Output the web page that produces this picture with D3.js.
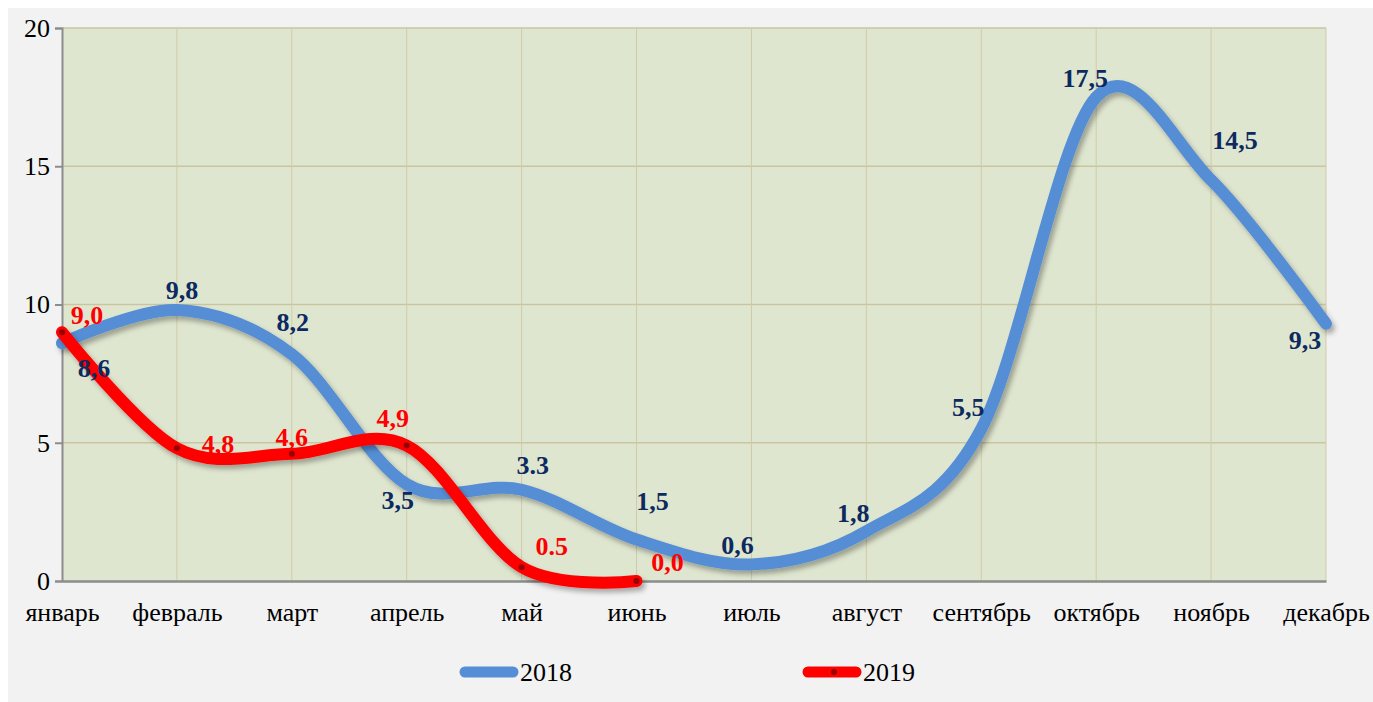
<!DOCTYPE html>
<html>
<head>
<meta charset="utf-8">
<script src="https://cdn.jsdelivr.net/npm/d3@7"></script>
<style>
  body { margin: 0; background: #ffffff; }
  svg { display: block; }
  svg text { font-family: "Liberation Serif", "Times New Roman", serif; }
</style>
</head>
<body>
<div id="chart"></div>
<script>
// data
var months = ["январь","февраль","март","апрель","май","июнь","июль","август","сентябрь","октябрь","ноябрь","декабрь"]
var values2018 = [8.6, 9.8, 8.2, 3.5, 3.3, 1.5, 0.6, 1.8, 5.5, 17.5, 14.5, 9.3]
var labels2018 = ["8,6","9,8","8,2","3,5","3.3","1,5","0,6","1,8","5,5","17,5","14,5","9,3"]
var values2019 = [9.0, 4.8, 4.6, 4.9, 0.5, 0.0]
var labels2019 = ["9,0","4,8","4,6","4,9","0.5","0,0"]
var yTicks = [0, 5, 10, 15, 20]
var seriesNames = ["2018", "2019"]

// label placement (dx, dy from point, baseline)
var off2018 = [[32,34],[5,-11],[1,-23],[-9,25],[11,-16],[16,-30],[-14,-10],[-13,-9],[-13,-13],[-11,-10],[24,-31],[-21,25]]
var off2019 = [[25,-8],[41,5],[0,-8],[-14,-19],[30,-12],[31,-10]]

var W = 1373, H = 702
var margin = {left: 62, right: 47, top: 28, bottom: 121}

var svg = d3.select("#chart").append("svg")
    .attr("width", W)
    .attr("height", H)

var defs = svg.append("defs")
var f = defs.append("filter").attr("id","shadow")
    .attr("x","-10%").attr("y","-10%").attr("width","120%").attr("height","130%")
f.append("feDropShadow")
    .attr("dx", 3).attr("dy", 4)
    .attr("stdDeviation", 2.5)
    .attr("flood-color", "#000")
    .attr("flood-opacity", 0.3)

svg.append("rect")
    .attr("x", 8).attr("y", 8)
    .attr("width", W - 8).attr("height", H - 8)
    .attr("fill", "#f2f2f2")

var x = d3.scalePoint().domain(months).range([margin.left, W - margin.right])
var y = d3.scaleLinear().domain([0, 20]).range([H - margin.bottom, margin.top])

svg.append("rect")
    .attr("x", margin.left).attr("y", margin.top)
    .attr("width", W - margin.right - margin.left)
    .attr("height", H - margin.bottom - margin.top)
    .attr("fill", "#dfe6cf")

// gridlines
svg.append("g").selectAll("line.h")
    .data(yTicks.filter(d => d > 0))
    .enter().append("line")
    .attr("x1", margin.left).attr("x2", W - margin.right)
    .attr("y1", d => y(d)).attr("y2", d => y(d))
    .attr("stroke", "#c9c5a0").attr("stroke-width", 1.5)

svg.append("g").selectAll("line.v")
    .data(months.slice(1))
    .enter().append("line")
    .attr("x1", d => x(d)).attr("x2", d => x(d))
    .attr("y1", margin.top).attr("y2", H - margin.bottom)
    .attr("stroke", "#cfcbaa").attr("stroke-width", 1)

// axes
var yAxis = d3.axisLeft(y).tickValues(yTicks).tickSize(7).tickPadding(5)
var gy = svg.append("g").attr("transform", "translate(" + margin.left + ",0)").call(yAxis)
gy.attr("font-family", null)
gy.select(".domain").attr("stroke", "#8c8c8c").attr("stroke-width", 2)
gy.selectAll(".tick line").attr("stroke", "#8c8c8c").attr("stroke-width", 2)
gy.selectAll(".tick text")
    .style("font-size", "26px").attr("fill", "#000")

var xAxis = d3.axisBottom(x).tickSize(0).tickPadding(22)
var gx = svg.append("g").attr("transform", "translate(0," + (H - margin.bottom) + ")").call(xAxis)
gx.attr("font-family", null)
gx.select(".domain").attr("stroke", "#8c8c8c").attr("stroke-width", 2.5)
gx.selectAll(".tick text")
    .style("font-size", "26px").attr("fill", "#000")

// lines
var line = d3.line()
    .x((d, i) => x(months[i]))
    .y(d => y(d))
    .curve(d3.curveCardinal.tension(0))

svg.append("path")
    .datum(values2018)
    .attr("d", line)
    .attr("fill", "none")
    .attr("stroke", "#558ed5")
    .attr("stroke-width", 12)
    .attr("stroke-linecap", "round")
    .attr("filter", "url(#shadow)")

svg.append("path")
    .datum(values2019)
    .attr("d", line)
    .attr("fill", "none")
    .attr("stroke", "#ff0000")
    .attr("stroke-width", 12)
    .attr("stroke-linecap", "round")
    .attr("filter", "url(#shadow)")

svg.append("g").selectAll("circle")
    .data(values2019)
    .enter().append("circle")
    .attr("cx", (d, i) => x(months[i]))
    .attr("cy", d => y(d))
    .attr("r", 3)
    .attr("fill", "#7a0000")
    .attr("opacity", 0.8)

// data labels
svg.append("g").selectAll("text")
    .data(values2018)
    .enter().append("text")
    .attr("x", (d, i) => x(months[i]) + off2018[i][0])
    .attr("y", (d, i) => y(d) + off2018[i][1])
    .attr("text-anchor", "middle")
    .style("font-weight", "bold")
    .style("font-size", "26px")
    .attr("fill", "#0c2a60")
    .text((d, i) => labels2018[i])

svg.append("g").selectAll("text")
    .data(values2019)
    .enter().append("text")
    .attr("x", (d, i) => x(months[i]) + off2019[i][0])
    .attr("y", (d, i) => y(d) + off2019[i][1])
    .attr("text-anchor", "middle")
    .style("font-weight", "bold")
    .style("font-size", "26px")
    .attr("fill", "#ff0000")
    .text((d, i) => labels2019[i])

// legend
var legendX = [459, 802]
var legendColors = ["#558ed5", "#ff0000"]
var lg = svg.append("g").selectAll("g")
    .data(seriesNames)
    .enter().append("g")
    .attr("transform", (d, i) => "translate(" + legendX[i] + ",672)")
lg.append("line")
    .attr("x1", 6).attr("x2", 54)
    .attr("stroke", (d, i) => legendColors[i])
    .attr("stroke-width", 11)
    .attr("stroke-linecap", "round")
lg.filter((d, i) => i == 1).append("circle")
    .attr("cx", 32).attr("r", 3).attr("fill", "#7a0000").attr("opacity", 0.8)
lg.append("text")
    .attr("x", 61).attr("y", 9)
    .style("font-size", "26px")
    .attr("fill", "#000")
    .text(d => d)
</script>
</body>
</html>
